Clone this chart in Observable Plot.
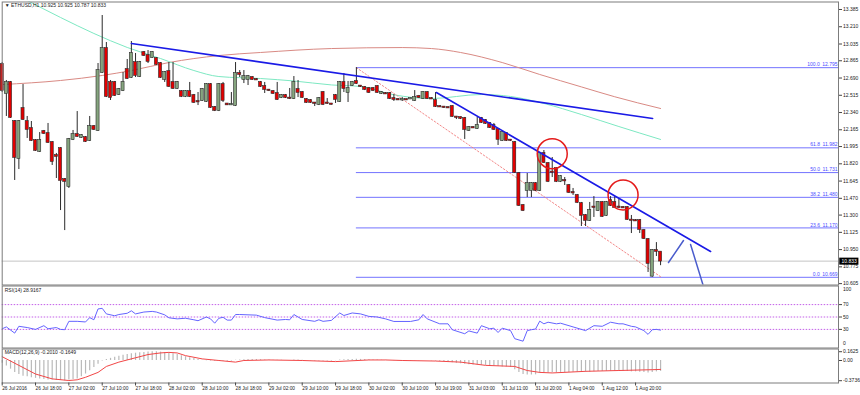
<!DOCTYPE html>
<html><head><meta charset="utf-8">
<script src="https://cdn.jsdelivr.net/npm/d3@7"></script>
<script src="https://cdn.jsdelivr.net/npm/@observablehq/plot@0.6"></script>
<style>
body{margin:0;background:#fff;}
#wrap{position:relative;width:860px;height:395px;overflow:hidden;background:#fff;}
#wrap svg{position:absolute;left:0;}
</style></head><body><div id="wrap"></div>
<script>
// ---------- DATA ----------
const title = "\u25BC ETHUSD,H1 10.925 10.925 10.787 10.833";
const open = [12.827,12.533,12.645,12.249,11.874,12.381,12.249,12.178,12.056,11.945,12.148,12.127,12.036,11.904,11.975,11.661,11.590,12.067,12.117,12.087,12.087,12.056,12.198,12.158,12.746,12.989,12.645,12.645,12.523,12.563,12.776,12.695,12.847,12.705,12.949,12.918,12.898,12.888,12.837,12.675,12.756,12.645,12.584,12.553,12.503,12.553,12.513,12.452,12.462,12.452,12.624,12.391,12.361,12.624,12.427,12.417,12.411,12.736,12.675,12.675,12.695,12.675,12.645,12.604,12.568,12.553,12.533,12.492,12.513,12.487,12.482,12.574,12.543,12.472,12.462,12.437,12.422,12.543,12.437,12.427,12.513,12.452,12.645,12.543,12.614,12.655,12.609,12.594,12.584,12.584,12.604,12.533,12.533,12.533,12.482,12.472,12.467,12.472,12.477,12.462,12.503,12.482,12.543,12.482,12.462,12.401,12.396,12.391,12.401,12.295,12.290,12.280,12.158,12.188,12.178,12.280,12.259,12.229,12.208,12.168,12.056,12.127,12.061,12.036,11.722,11.397,11.549,11.549,11.620,11.549,11.925,11.823,11.737,11.772,11.641,11.651,11.600,11.529,11.499,11.417,11.296,11.245,11.382,11.346,11.428,11.296,11.448,11.428,11.382,11.377,11.377,11.250,11.245,11.245,11.143,11.052,10.680,10.941,10.925];
const high = [12.847,12.665,12.655,12.259,12.259,12.624,12.300,12.249,12.066,12.137,12.158,12.229,12.046,11.925,11.985,11.671,12.077,12.158,12.350,12.117,12.097,12.300,12.208,12.837,13.324,13.050,12.665,12.655,12.584,12.746,12.878,13.060,12.939,12.858,12.959,12.969,12.959,12.898,12.847,12.756,12.847,12.847,12.655,12.563,12.563,12.645,12.523,12.543,12.584,12.634,12.634,12.401,12.634,12.645,12.432,12.543,12.847,12.766,12.766,12.716,12.705,12.685,12.655,12.645,12.574,12.563,12.645,12.523,12.523,12.584,12.705,12.665,12.553,12.482,12.472,12.442,12.492,12.553,12.482,12.432,12.523,12.655,12.736,12.655,12.655,12.795,12.614,12.604,12.594,12.594,12.614,12.553,12.543,12.543,12.523,12.482,12.492,12.477,12.487,12.563,12.513,12.553,12.553,12.492,12.543,12.406,12.401,12.396,12.411,12.300,12.295,12.290,12.198,12.198,12.290,12.290,12.269,12.239,12.229,12.178,12.148,12.137,12.066,12.046,11.732,11.407,11.722,11.630,11.630,11.935,11.955,11.833,11.884,11.782,11.701,11.681,11.610,11.570,11.509,11.428,11.306,11.428,11.488,11.438,11.438,11.438,11.488,11.488,11.468,11.387,11.387,11.296,11.255,11.255,11.153,11.062,10.951,11.021,10.925];
const low = [12.543,12.300,12.280,11.651,11.762,12.259,12.077,12.046,11.945,11.935,12.117,12.026,11.803,11.671,11.346,11.143,11.570,12.056,12.087,12.077,12.036,12.046,12.158,12.148,12.736,12.492,12.462,12.503,12.513,12.553,12.675,12.685,12.695,12.695,12.908,12.837,12.888,12.817,12.685,12.645,12.594,12.574,12.574,12.492,12.492,12.492,12.432,12.411,12.452,12.442,12.381,12.350,12.350,12.442,12.411,12.411,12.401,12.695,12.634,12.614,12.665,12.665,12.594,12.533,12.553,12.523,12.462,12.482,12.482,12.472,12.472,12.492,12.482,12.432,12.432,12.401,12.411,12.411,12.422,12.417,12.432,12.442,12.543,12.442,12.604,12.624,12.594,12.563,12.533,12.553,12.533,12.523,12.523,12.472,12.452,12.462,12.452,12.462,12.472,12.452,12.482,12.472,12.472,12.472,12.391,12.391,12.381,12.381,12.290,12.269,12.269,12.067,12.148,12.178,12.168,12.229,12.219,12.178,12.158,12.006,12.046,12.046,12.046,11.722,11.387,11.336,11.478,11.478,11.539,11.539,11.823,11.630,11.681,11.630,11.630,11.600,11.519,11.499,11.417,11.184,11.184,11.235,11.276,11.336,11.276,11.286,11.387,11.367,11.367,11.367,11.245,11.113,11.235,11.113,11.052,10.718,10.669,10.880,10.787];
const close = [12.563,12.645,12.290,11.884,12.249,12.269,12.168,12.056,11.955,12.056,12.127,12.036,11.843,11.894,11.651,11.641,12.067,12.117,12.097,12.107,12.046,12.198,12.168,12.766,12.989,12.503,12.492,12.513,12.574,12.645,12.685,12.939,12.716,12.847,12.918,12.858,12.949,12.827,12.695,12.746,12.604,12.584,12.645,12.503,12.553,12.503,12.442,12.447,12.574,12.624,12.391,12.361,12.624,12.462,12.417,12.422,12.736,12.726,12.705,12.705,12.675,12.670,12.604,12.574,12.563,12.533,12.472,12.513,12.492,12.482,12.645,12.543,12.492,12.442,12.442,12.432,12.482,12.422,12.432,12.422,12.472,12.645,12.584,12.584,12.645,12.634,12.604,12.574,12.543,12.563,12.543,12.543,12.528,12.482,12.472,12.467,12.472,12.467,12.482,12.492,12.492,12.543,12.482,12.477,12.401,12.396,12.391,12.386,12.300,12.290,12.280,12.168,12.188,12.183,12.208,12.239,12.229,12.188,12.168,12.067,12.137,12.056,12.056,11.732,11.397,11.346,11.620,11.620,11.549,11.925,11.833,11.641,11.732,11.641,11.691,11.646,11.529,11.524,11.428,11.296,11.245,11.346,11.377,11.428,11.286,11.428,11.397,11.377,11.377,11.372,11.255,11.245,11.240,11.153,11.062,10.809,10.941,10.931,10.833];

// moving averages (bar index, price)
const maSlowBar = [0,14,24,31,40,52,62,79,96,103,110,120,129,139,147,158];
const maSlow = [12.624,12.665,12.716,12.766,12.847,12.918,12.949,12.989,12.999,12.989,12.949,12.847,12.726,12.600,12.500,12.381];
const maFastBar = [3,6,14,22,30,38,46,52,62,70,79,86,94,103,115,122,130,139,148,158];
const maFast = [13.540,13.476,13.304,13.142,13.000,12.888,12.766,12.705,12.685,12.660,12.620,12.604,12.520,12.482,12.523,12.503,12.432,12.320,12.198,12.067];

// drawings
const trendUpperBar = [31, 156.1];
const trendUpper = [13.040, 12.280];
const trendLowerBar = [104.2, 170];
const trendLower = [12.543, 10.931];
const arrowABar = [159.9, 163.5];
const arrowA = [10.819, 11.042];
const arrowBBar = [165.2, 168.3];
const arrowB = [11.002, 10.576];
const fibLineBar = [85, 158.2];
const fibLine = [12.795, 10.669];
const fibLevels = [100.0, 61.8, 50.0, 38.2, 23.6, 0.0];
const fibPrices = [12.795, 11.982, 11.731, 11.480, 11.170, 10.669];
const circleBar = [132, 149];
const circlePrice = [11.922, 11.504];

const priceTicks = [13.385,13.210,13.035,12.865,12.690,12.515,12.340,12.165,11.995,11.820,11.645,11.470,11.300,11.125,10.950,10.775,10.605];
const lastPrice = 10.833;

// RSI(14)
const rsiLabel = "RSI(14) 28.9167";
const rsiBar = [0,1,3,4,6,8,10,11,13,14,15,16,18,20,21,22,23,24,25,27,28,30,31,32,34,36,37,39,40,42,44,46,47,49,50,51,52,53,54,55,56,57,61,63,66,68,69,70,71,72,75,76,77,79,81,82,84,86,88,90,92,94,98,100,101,102,105,107,108,111,112,114,115,117,118,119,120,122,123,125,126,127,128,129,130,131,133,134,137,140,142,144,146,148,149,151,152,154,155,156,157,158];
const rsiValue = [31,34,24,35,33,30,36,31,33,30,29.5,43,43,42,49,45.5,63,64,55,52,54,56,60,55,58,59,58,53.5,48.7,47,48,45.5,44,50,47,40,48,49.5,45,45,54,54,53,49,45,46,45.5,54,50,46,43,45.5,43,44.5,56.5,52.4,56.5,55,51,50,47,42.8,42.8,45.5,54,47,39,39,29.5,23,27.5,24,36,31,32,25,32,28,15,11,28,29.5,30.6,43.3,39,41.6,39,40,34,28,36,35,41.6,39,39,35,34,28,22,29.5,30,28.9];
const rsiLevels = [70, 50, 30];

// MACD(12,26,9)
const macdLabel = "MACD(12,26,9) -0.2010 -0.1649";
const macdHist = [-0.05,-0.10,-0.16,-0.22,-0.26,-0.29,-0.30,-0.32,-0.33,-0.34,-0.35,-0.36,-0.36,-0.37,-0.37,-0.3736,-0.36,-0.35,-0.34,-0.30,-0.25,-0.19,-0.13,-0.07,-0.01,0.02,0.04,0.06,0.08,0.095,0.11,0.125,0.135,0.145,0.15,0.155,0.1625,0.16,0.155,0.15,0.14,0.125,0.11,0.09,0.07,0.05,0.035,0.02,0.005,-0.005,-0.01,-0.015,-0.01,-0.01,-0.015,-0.01,0.005,0.01,0.015,0.02,0.02,0.02,0.015,0.01,0.01,0.005,0.005,0.005,0,0,0.01,0.01,0.005,0,-0.005,-0.01,-0.01,-0.01,-0.01,-0.01,-0.005,0.01,0.015,0.02,0.02,0.025,0.02,0.02,0.015,0.01,0.01,0.005,0.005,0,-0.005,-0.005,-0.01,-0.01,-0.01,-0.005,-0.005,0,0,-0.005,-0.01,-0.015,-0.02,-0.03,-0.04,-0.05,-0.06,-0.07,-0.08,-0.085,-0.085,-0.09,-0.09,-0.095,-0.10,-0.11,-0.12,-0.12,-0.13,-0.17,-0.22,-0.26,-0.27,-0.27,-0.265,-0.24,-0.23,-0.23,-0.225,-0.225,-0.22,-0.22,-0.22,-0.215,-0.215,-0.22,-0.22,-0.215,-0.21,-0.205,-0.205,-0.2,-0.2,-0.2,-0.2,-0.2,-0.205,-0.21,-0.21,-0.215,-0.22,-0.23,-0.22,-0.21,-0.201];
const signalBar = [0,4,8,12,16,18,20,23,25,28,32,35,38,40,42,44,48,52,56,58,64,72,80,88,92,96,104,110,116,123,126,129,132,140,148,156,158];
const signalValue = [0.07,-0.09,-0.25,-0.34,-0.37,-0.357,-0.31,-0.22,-0.11,-0.03,0.05,0.11,0.14,0.15,0.14,0.09,0.03,0,-0.03,0,0.01,0,-0.02,0.01,0.01,0,-0.01,-0.03,-0.09,-0.11,-0.185,-0.22,-0.23,-0.20,-0.185,-0.17,-0.1649];
const macdTicks = [0.1625, 0, -0.3736];
const macdTickLabels = ["0.1625", "0.00", "-0.3736"];

// time axis (every 8 bars)
const timeTickBars = [0,8,16,24,32,40,48,56,64,72,80,88,96,104,112,120,128,136,144,152];
const timeTickLabels = ["26 Jul 2016","26 Jul 18:00","27 Jul 02:00","27 Jul 10:00","27 Jul 18:00","28 Jul 02:00","28 Jul 10:00","28 Jul 18:00","29 Jul 02:00","29 Jul 10:00","29 Jul 18:00","30 Jul 02:00","30 Jul 10:00","30 Jul 19:00","31 Jul 03:00","31 Jul 11:00","31 Jul 20:00","1 Aug 04:00","1 Aug 12:00","1 Aug 20:00"];

// ---------- CHART ----------
const xMax = 200.7;
const font = "'Liberation Sans', Arial, sans-serif";
const baseStyle = {background: "transparent", overflow: "visible", fontFamily: font, fontSize: "5px", color: "#1a1a1a"};
const frameColor = "#7c7c7c";
const pairs = (xs, ys) => xs.map((x, k) => [x, ys[k]]);

const candles = open.map((o, i) => ({i, o, h: high[i], l: low[i], c: close[i]}));
const bull = candles.filter(d => d.c >= d.o);
const bear = candles.filter(d => d.c < d.o);
const fib = fibLevels.map((lv, k) => ({lv, p: fibPrices[k]}));
const bodyOpts = (fill) => ({
  x1: d => d.i - 0.37, x2: d => d.i + 0.37,
  y1: d => Math.min(d.o, d.c), y2: d => Math.max(d.o, d.c),
  fill, stroke: "#2b2b2b", strokeWidth: 0.6, insetTop: -0.4, insetBottom: -0.4
});

const main = Plot.plot({
  width: 860, height: 286, marginTop: 1.5, marginBottom: 1.5, marginLeft: 1.7, marginRight: 22,
  x: {domain: [0, xMax], axis: null, label: null},
  y: {domain: [10.591, 13.461], label: null},
  style: baseStyle,
  marks: [
    Plot.ruleY([lastPrice], {stroke: "#c4c4c4", strokeWidth: 1}),
    Plot.ruleY(fib, {y: "p", x1: () => fibLineBar[0], x2: () => xMax, stroke: "#7474ff", strokeWidth: 1}),
    Plot.text(fib, {x: () => xMax, y: "p", text: d => `${d.lv.toFixed(1)}\u2002${d.p.toFixed(3)}`, textAnchor: "end", dx: -1, dy: -3, fill: "#4b4bff", fontSize: 5}),
    Plot.line(pairs(maSlowBar, maSlow), {x: d => d[0], y: d => d[1], stroke: "#d98a84", strokeWidth: 1, curve: "monotone-x"}),
    Plot.line(pairs(maFastBar, maFast), {x: d => d[0], y: d => d[1], stroke: "#7de8c2", strokeWidth: 1, curve: "monotone-x", clip: true}),
    Plot.line(pairs(fibLineBar, fibLine), {x: d => d[0], y: d => d[1], stroke: "#f07a7a", strokeWidth: 0.9, strokeDasharray: "1.5,2"}),
    Plot.ruleX(candles, {x: "i", y1: "l", y2: "h", stroke: "#2b2b2b", strokeWidth: 1}),
    Plot.rect(bull, bodyOpts("#86a57f")),
    Plot.rect(bear, bodyOpts("#e20000")),
    Plot.line(pairs(trendUpperBar, trendUpper), {x: d => d[0], y: d => d[1], stroke: "#1a1ae6", strokeWidth: 1.6}),
    Plot.line(pairs(trendLowerBar, trendLower), {x: d => d[0], y: d => d[1], stroke: "#1a1ae6", strokeWidth: 1.6}),
    Plot.line(pairs(arrowABar, arrowA), {x: d => d[0], y: d => d[1], stroke: "#4a5ccc", strokeWidth: 1.5, clip: true}),
    Plot.line(pairs(arrowBBar, arrowB), {x: d => d[0], y: d => d[1], stroke: "#4a5ccc", strokeWidth: 1.5, clip: true}),
    Plot.dot(pairs(circleBar, circlePrice), {x: d => d[0], y: d => d[1], r: 15, stroke: "#e41a1a", strokeWidth: 1.5, fill: "none"}),
    Plot.frame({stroke: frameColor}),
    Plot.axisY(priceTicks, {anchor: "right", label: null, tickSize: 3, tickPadding: 1.5, tickFormat: d => d.toFixed(3), fontSize: 5, stroke: "#444"}),
    Plot.ruleY([lastPrice], {x1: () => xMax + 0.3, x2: () => xMax + 4.9, stroke: "#000", strokeWidth: 7}),
    Plot.text([lastPrice], {x: () => xMax, y: d => d, text: d => d.toFixed(3), textAnchor: "start", dx: 3, fill: "#fff", fontSize: 5}),
    Plot.text([title], {frameAnchor: "top-left", dx: 2.5, dy: 1.5, lineAnchor: "top", fontSize: 5, fill: "#1a1a1a"})
  ]
});

const rsi = Plot.plot({
  width: 860, height: 63, marginTop: 0.5, marginBottom: 0.5, marginLeft: 1.7, marginRight: 22,
  x: {domain: [0, xMax], axis: null, label: null},
  y: {domain: [0, 100], label: null},
  style: baseStyle,
  marks: [
    Plot.ruleY(rsiLevels, {stroke: "#c35ee8", strokeWidth: 1, strokeDasharray: "1.5,1.5"}),
    Plot.line(pairs(rsiBar, rsiValue), {x: d => d[0], y: d => d[1], stroke: "#6464ff", strokeWidth: 1}),
    Plot.frame({stroke: frameColor}),
    Plot.axisY(rsiLevels, {anchor: "right", label: null, tickSize: 3, tickPadding: 1.5, fontSize: 5, stroke: "#444"}),
    Plot.text([100], {x: () => xMax, y: d => d, text: d => String(d), textAnchor: "start", dx: 4.5, dy: 3.5, fontSize: 5}),
    Plot.text([0], {x: () => xMax, y: d => d, text: d => String(d), textAnchor: "start", dx: 4.5, dy: -4.5, fontSize: 5}),
    Plot.text([rsiLabel], {frameAnchor: "top-left", dx: 2.5, dy: 2, lineAnchor: "top", fontSize: 5, fill: "#1a1a1a"})
  ]
});

const macdData = macdHist.map((v, i) => ({i, v}));
const macd = Plot.plot({
  width: 860, height: 47, marginTop: 0.5, marginBottom: 12.5, marginLeft: 1.7, marginRight: 22,
  x: {domain: [0, xMax], label: null},
  y: {domain: [-0.416, 0.2126], label: null},
  style: baseStyle,
  marks: [
    Plot.ruleX(macdData, {x: "i", y1: () => 0, y2: "v", stroke: "#b9b9b9", strokeWidth: 1.2}),
    Plot.line(pairs(signalBar, signalValue), {x: d => d[0], y: d => d[1], stroke: "#f24646", strokeWidth: 1}),
    Plot.frame({stroke: frameColor}),
    Plot.axisY(macdTicks, {anchor: "right", label: null, tickSize: 3, tickPadding: 1.5, fontSize: 5, stroke: "#444", tickFormat: d => macdTickLabels[macdTicks.indexOf(d)]}),
    Plot.axisX(timeTickBars, {anchor: "bottom", label: null, tickSize: 3, tickPadding: 1, fontSize: 4.8, textAnchor: "start", stroke: "#444", tickFormat: d => timeTickLabels[timeTickBars.indexOf(d)]}),
    Plot.text([macdLabel], {frameAnchor: "top-left", dx: 2.5, dy: 1.5, lineAnchor: "top", fontSize: 5, fill: "#1a1a1a"})
  ]
});

const wrap = document.getElementById("wrap");
[[main, 0], [rsi, 285], [macd, 348]].forEach(([svg, top]) => {
  svg.style.position = "absolute";
  svg.style.top = top + "px";
  svg.style.left = "0px";
  wrap.appendChild(svg);
});
</script>
</body></html>
